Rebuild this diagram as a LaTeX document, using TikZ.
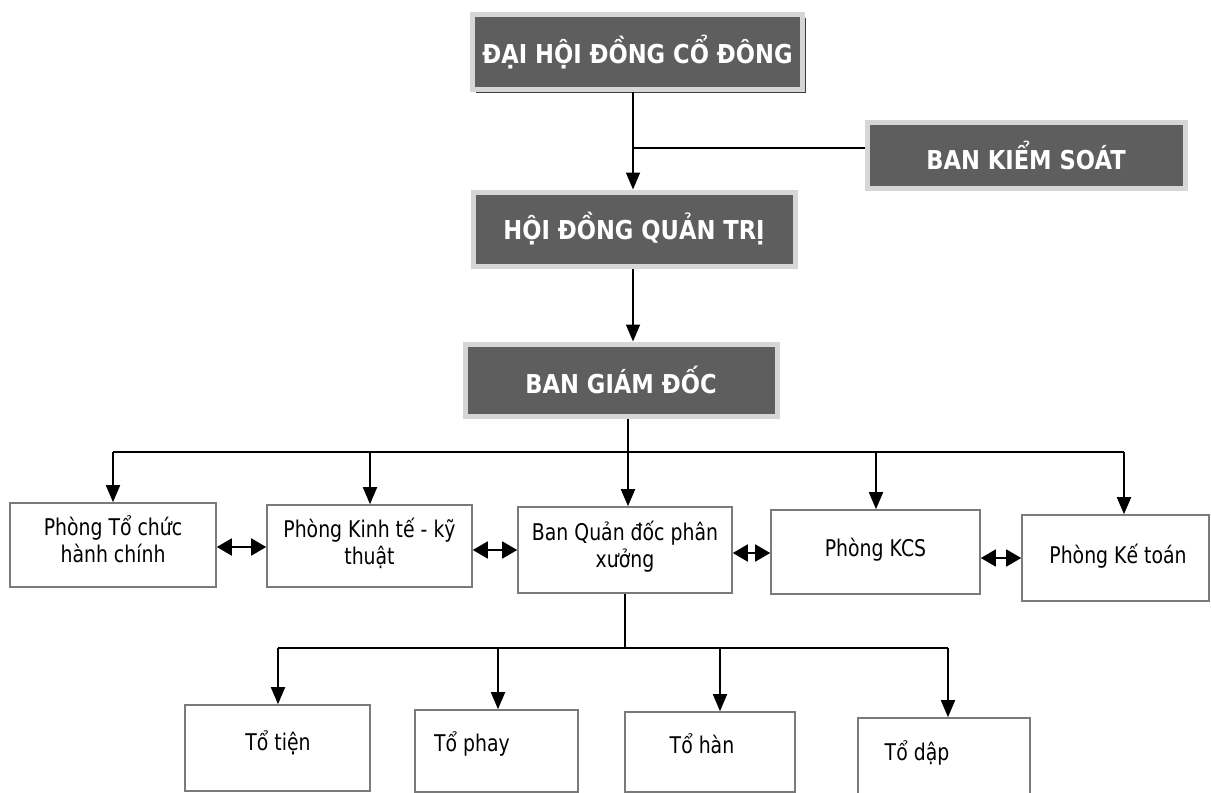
\documentclass[tikz,border=0pt]{standalone}
\usepackage{fontspec}
\setmainfont{DejaVu Sans}
\newfontfamily\headfont[FakeStretch=0.87]{DejaVu Sans}
\newfontfamily\boxfont[FakeStretch=0.82]{DejaVu Sans}
\usetikzlibrary{arrows.meta,shadows}
\definecolor{darkfill}{HTML}{5E5E5E}
\definecolor{framegray}{HTML}{D6D6D6}
\definecolor{shadowgray}{HTML}{3C3C3C}
\definecolor{edgegray}{HTML}{7A7A7A}
\tikzset{
  darkbox/.style={fill=darkfill, draw=framegray, line width=5pt, inner sep=0pt,
    text=white, font=\headfont\bfseries\fontsize{26}{30}\selectfont,
    drop shadow={fill=shadowgray, shadow xshift=3pt, shadow yshift=-3pt, opacity=1}},
  whitebox/.style={draw=edgegray, line width=1.6pt, fill=white, inner sep=0pt},
  boxtext/.style={font=\boxfont\fontsize{23}{27}\selectfont, anchor=base, inner sep=0pt},
  conn/.style={line width=1.8pt, black},
  arr/.style={conn, -{Triangle[length=17pt,width=14pt]}},
  darr/.style={conn, {Triangle[length=15pt,width=17pt]}-{Triangle[length=15pt,width=17pt]}}
}
\begin{document}
\begin{tikzpicture}[x=1pt,y=-1pt]
\useasboundingbox (0,0) rectangle (1211,793);
% top management boxes
\node[darkbox, minimum width=330pt, minimum height=75pt] (dh) at (637.5,52) {ĐẠI HỘI ĐỒNG CỔ ĐÔNG};
\node[darkbox, minimum width=318pt, minimum height=66pt] (bks) at (1026,155) {BAN KIỂM SOÁT};
\node[darkbox, minimum width=322pt, minimum height=74pt] (hdqt) at (634,229) {HỘI ĐỒNG QUẢN TRỊ};
\node[darkbox, minimum width=312pt, minimum height=72pt] (bgd) at (621,380) {BAN GIÁM ĐỐC};
% second row boxes
\node[whitebox, minimum width=206pt, minimum height=84pt] (p1) at (113,545) {};
\node[whitebox, minimum width=205pt, minimum height=82pt] (p2) at (369.5,546) {};
\node[whitebox, minimum width=214pt, minimum height=86pt] (p3) at (625,550) {};
\node[whitebox, minimum width=209pt, minimum height=84pt] (p4) at (875.5,552) {};
\node[whitebox, minimum width=187pt, minimum height=86pt] (p5) at (1115.5,558) {};
\node[boxtext] (t1a) at (113,535) {Phòng Tổ chức};
\node[boxtext] (t1b) at (113,562) {hành chính};
\node[boxtext] (t2a) at (369.5,537) {Phòng Kinh tế - kỹ};
\node[boxtext] (t2b) at (369.5,564) {thuật};
\node[boxtext] (t3a) at (625,540) {Ban Quản đốc phân};
\node[boxtext] (t3b) at (625,567) {xưởng};
\node[boxtext] (t4) at (875.5,556) {Phòng KCS};
\node[boxtext] (t5) at (1118,563) {Phòng Kế toán};
% third row boxes
\node[whitebox, minimum width=185pt, minimum height=86pt] (q1) at (277.5,748) {};
\node[whitebox, minimum width=163pt, minimum height=82pt] (q2) at (496.5,751) {};
\node[whitebox, minimum width=170pt, minimum height=80pt] (q3) at (710,752) {};
\node[whitebox, minimum width=172pt, minimum height=76pt] (q4) at (944,756) {};
\node[boxtext] (u1) at (278,750) {Tổ tiện};
\node[boxtext] (u2) at (472,751) {Tổ phay};
\node[boxtext] (u3) at (702,753) {Tổ hàn};
\node[boxtext] (u4) at (917,760) {Tổ dập};
% junction coordinates
\coordinate (j1) at (633,148);
\coordinate (b1) at (113,452);
\coordinate (b2) at (370,452);
\coordinate (b3) at (628,452);
\coordinate (b4) at (876,452);
\coordinate (b5) at (1124,452);
\coordinate (c0) at (625,648);
\coordinate (c1) at (278,648);
\coordinate (c2) at (498,648);
\coordinate (c3) at (720,648);
\coordinate (c4) at (948,648);
% connectors
\draw[conn] (dh.south -| j1) -- (j1);
\draw[conn] (bks.west |- j1) -- (j1);
\draw[arr] (j1) -- (hdqt.north -| j1);
\draw[arr] (hdqt.south -| j1) -- (bgd.north -| j1);
\draw[conn] (bgd.south -| b3) -- (b3);
\draw[conn] (b1) -- (b5);
\draw[arr] (b1) -- (p1.north -| b1);
\draw[arr] (b2) -- (p2.north -| b2);
\draw[arr] (b3) -- (p3.north -| b3);
\draw[arr] (b4) -- (p4.north -| b4);
\draw[arr] (b5) -- (p5.north -| b5);
\draw[darr] (p1.east |- 0,547) -- (p2.west |- 0,547);
\draw[darr] (p2.east |- 0,550) -- (p3.west |- 0,550);
\draw[darr] (p3.east |- 0,553) -- (p4.west |- 0,553);
\draw[darr] (p4.east |- 0,558) -- (p5.west |- 0,558);
\draw[conn] (p3.south -| c0) -- (c0);
\draw[conn] (c1) -- (c4);
\draw[arr] (c1) -- (q1.north -| c1);
\draw[arr] (c2) -- (q2.north -| c2);
\draw[arr] (c3) -- (q3.north -| c3);
\draw[arr] (c4) -- (q4.north -| c4);
\end{tikzpicture}
\end{document}
